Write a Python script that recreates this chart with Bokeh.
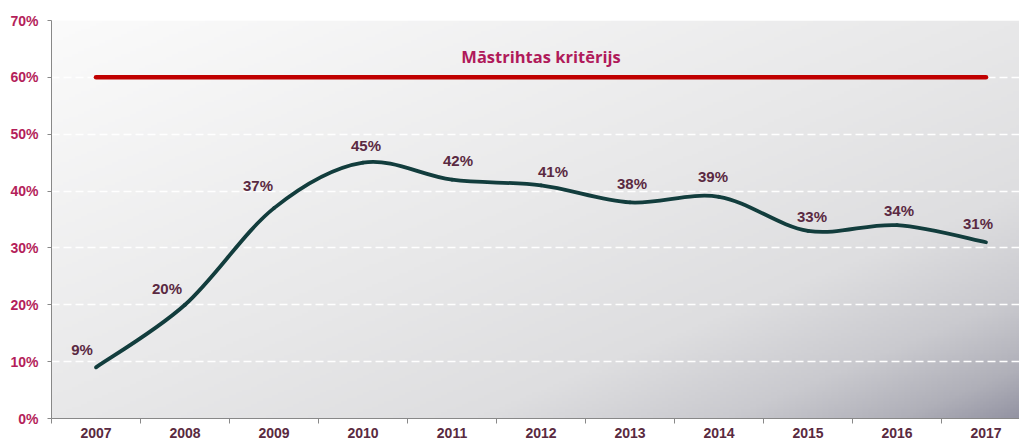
import numpy as np
from bokeh.plotting import figure
from bokeh.models import (Range1d, FixedTicker, PrintfTickFormatter,
                          ColumnDataSource, LabelSet, Label)
from bokeh.core.properties import value
from bokeh.embed import file_html
from bokeh.resources import INLINE

# ---- data ----
years = [2007, 2008, 2009, 2010, 2011, 2012, 2013, 2014, 2015, 2016, 2017]
debt = [9, 20, 37, 45, 42, 41, 38, 39, 33, 34, 31]
debt_labels = ["9%", "20%", "37%", "45%", "42%", "41%", "38%", "39%", "33%", "34%", "31%"]
threshold = 60
threshold_label = "Māstrihtas kritērijs"
y_ticks = [0, 10, 20, 30, 40, 50, 60, 70]

# ---- label placement (style, pixels) ----
label_dx = [-14, -18, -16, 3, 6, 12, 2, -6, 4, 2, -8]
label_dy = [18, 16, 23, 17, 19, 14, 19, 20, 14, 15, 19]

W, H = 1019, 440
BL, BR, BT, BB = 51, 0, 20, 22
frame_w = W - BL - BR
px_per_year = 89.0
x_start = years[0] - 0.5
x_end = x_start + frame_w / px_per_year

p = figure(width=W, height=H, output_backend="svg", toolbar_location=None,
           x_range=Range1d(x_start, x_end), y_range=Range1d(0, 70),
           min_border_left=BL, min_border_right=BR, min_border_top=BT,
           min_border_bottom=BB)
p.outline_line_color = None
p.background_fill_color = "white"
p.border_fill_color = "white"

# ---- gradient background ----
GW, GH = 320, 140
u = np.linspace(0, 1, GW)[None, :]
v = 1 - np.linspace(0, 1, GH)[:, None]  # row 0 = bottom -> v=1
d = (u + v) / 2.0
stops = [0.0, 0.5, 0.72, 0.85, 0.94, 1.0]
rs = [251, 232, 222, 202, 176, 148]
gs = [251, 232, 222, 202, 176, 148]
bs = [251, 233, 224, 207, 185, 163]
img = np.empty((GH, GW), dtype=np.uint32)
view = img.view(dtype=np.uint8).reshape((GH, GW, 4))
view[:, :, 0] = np.interp(d, stops, rs).astype(np.uint8)
view[:, :, 1] = np.interp(d, stops, gs).astype(np.uint8)
view[:, :, 2] = np.interp(d, stops, bs).astype(np.uint8)
view[:, :, 3] = 255
bg = p.image_rgba(image=[img], x=x_start, y=0, dw=x_end - x_start, dh=70)
bg.level = "image"

# ---- grid ----
p.xgrid.visible = False
p.ygrid.ticker = FixedTicker(ticks=y_ticks[1:-1])
p.ygrid.grid_line_color = "white"
p.ygrid.grid_line_dash = "8 4"
p.ygrid.grid_line_width = 1.5

# ---- threshold line ----
p.line(x=[years[0], years[-1]], y=[threshold, threshold], line_color="#c00000",
       line_width=4.5, line_cap="round")
p.add_layout(Label(x=(years[0] + years[-1]) / 2, y=threshold, text=threshold_label,
                   text_align="center", text_baseline="alphabetic", y_offset=21,
                   text_font="Open Sans", text_font_style="bold",
                   text_font_size="16.5px", text_color="#b01a5a"))

# ---- smoothed line via bezier segments ----
x = np.array(years, dtype=float)
y = np.array(debt, dtype=float)
xp = np.concatenate([[x[0]], x, [x[-1]]])
yp = np.concatenate([[y[0]], y, [y[-1]]])
n = len(x)
x0 = x[:-1]; y0 = y[:-1]; x1 = x[1:]; y1 = y[1:]
cx0 = x0 + (xp[2:n + 1] - xp[0:n - 1]) / 6.0
cy0 = y0 + (yp[2:n + 1] - yp[0:n - 1]) / 6.0
cx1 = x1 - (xp[3:n + 2] - xp[1:n]) / 6.0
cy1 = y1 - (yp[3:n + 2] - yp[1:n]) / 6.0
p.bezier(x0=x0, y0=y0, x1=x1, y1=y1, cx0=cx0, cy0=cy0, cx1=cx1, cy1=cy1,
         line_color="#123d3d", line_width=3.8, line_cap="round")

# ---- data labels ----
src = ColumnDataSource(dict(x=years, y=debt, t=debt_labels, dx=label_dx, dy=label_dy))
p.add_layout(LabelSet(x="x", y="y", text="t", source=src, x_offset="dx", y_offset="dy",
                      text_align="center", text_baseline="middle",
                      text_font=value("Liberation Sans"), text_font_style="bold",
                      text_font_size="15px", text_color="#5a2942"))

# ---- axes ----
ya = p.yaxis[0]
ya.ticker = FixedTicker(ticks=y_ticks)
ya.formatter = PrintfTickFormatter(format="%d%%")
ya.axis_line_color = "#888888"
ya.major_tick_line_color = "#888888"
ya.major_tick_in = 0
ya.major_tick_out = 4
ya.minor_tick_line_color = None
ya.major_label_standoff = 9
ya.major_label_text_font = "Liberation Sans"
ya.major_label_text_font_style = "bold"
ya.major_label_text_font_size = "14px"
ya.major_label_text_color = "#b41e5a"

xa = p.xaxis[0]
xa.ticker = FixedTicker(ticks=years, minor_ticks=[yr - 0.5 for yr in years] + [years[-1] + 0.5])
xa.formatter = PrintfTickFormatter(format="%d")
xa.axis_line_color = "#888888"
xa.major_tick_line_color = None
xa.major_tick_in = 0
xa.major_tick_out = 0
xa.minor_tick_line_color = "#888888"
xa.minor_tick_in = 0
xa.minor_tick_out = 5
xa.major_label_standoff = 4
xa.major_label_text_font = "Liberation Sans"
xa.major_label_text_font_style = "bold"
xa.major_label_text_font_size = "14px"
xa.major_label_text_color = "#5a2a40"

open("out.html", "w").write(file_html(p, INLINE))
